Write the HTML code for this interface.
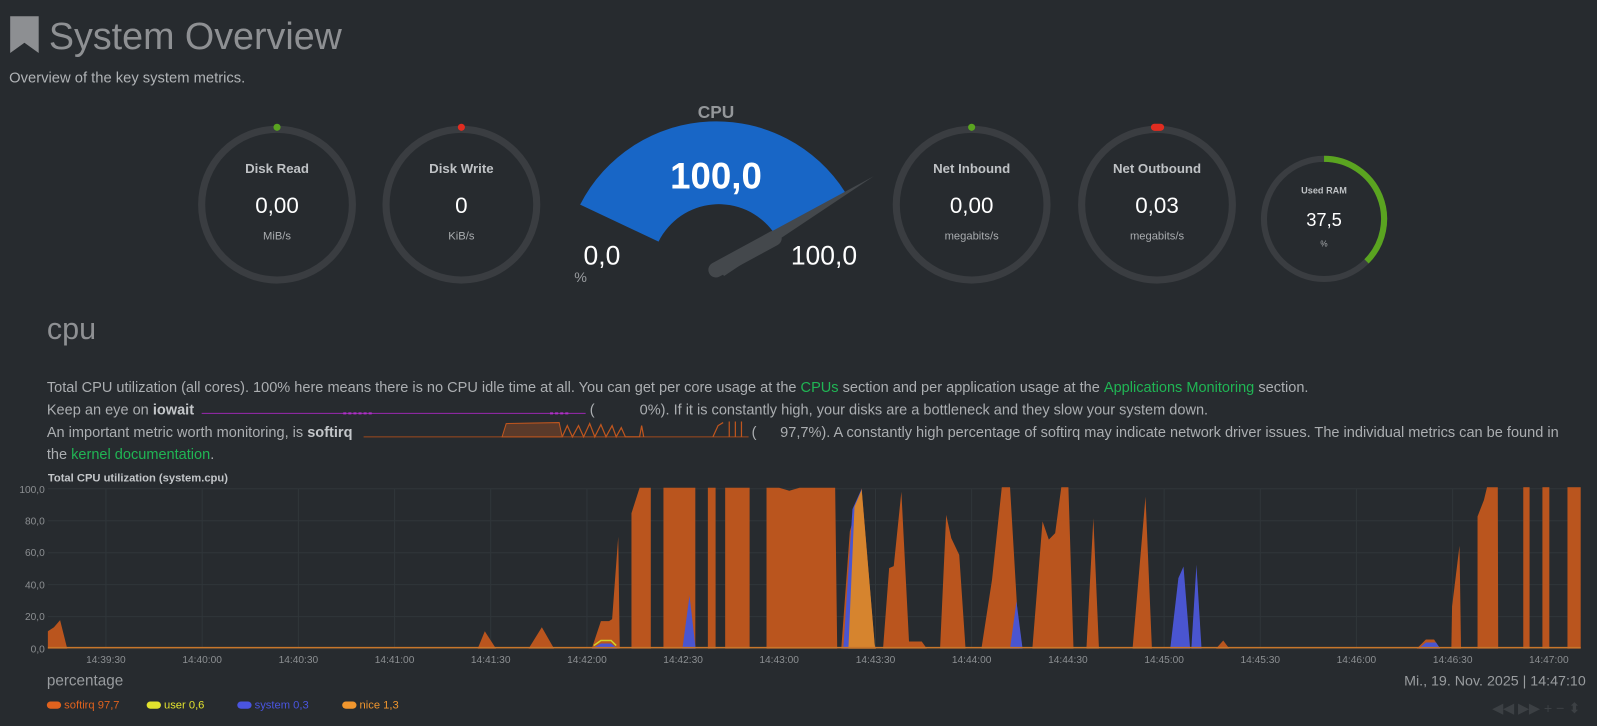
<!DOCTYPE html>
<html><head><meta charset="utf-8"><style>
html,body{margin:0;padding:0;background:#272b2f;overflow:hidden}
svg{display:block}
text{font-family:"Liberation Sans",sans-serif}
</style></head><body>
<svg width="1597" height="726" viewBox="0 0 1568 713" preserveAspectRatio="none" xmlns="http://www.w3.org/2000/svg">
<rect width="1568" height="713" fill="#272b2f"/>
<!-- header -->
<path d="M10,16 L38,16 L38,52 L24,42 L10,52 Z" fill="#8d8f92"/>
<text x="48" y="48" font-size="37" fill="#8e9093">System Overview</text>
<text x="9" y="81" font-size="14.5" fill="#b0b3b6">Overview of the key system metrics.</text>

<!-- circle gauges -->
<g fill="none" stroke="#3a3d41" stroke-width="7">
<circle cx="272" cy="201" r="74"/>
<circle cx="453" cy="201" r="74"/>
<circle cx="954" cy="201" r="74"/>
<circle cx="1136" cy="201" r="74"/>
<circle cx="1300" cy="215" r="59" stroke-width="6"/>
</g>
<path d="M1300,156 A59,59 0 0 1 1341.7,256.7" fill="none" stroke="#5aa420" stroke-width="6"/>
<circle cx="272" cy="125" r="3.5" fill="#5aa420"/>
<circle cx="453" cy="125" r="3.5" fill="#e02c20"/>
<circle cx="954" cy="125" r="3.5" fill="#5aa420"/>
<rect x="1130" y="121.5" width="13" height="7" rx="3.5" fill="#e02c20"/>
<g text-anchor="middle">
<text x="272" y="170" font-size="13" font-weight="bold" fill="#bfc2c5">Disk Read</text>
<text x="272" y="209" font-size="22" fill="#fff">0,00</text>
<text x="272" y="235" font-size="11" fill="#a9acaf">MiB/s</text>
<text x="453" y="170" font-size="13" font-weight="bold" fill="#bfc2c5">Disk Write</text>
<text x="453" y="209" font-size="22" fill="#fff">0</text>
<text x="453" y="235" font-size="11" fill="#a9acaf">KiB/s</text>
<text x="954" y="170" font-size="13" font-weight="bold" fill="#bfc2c5">Net Inbound</text>
<text x="954" y="209" font-size="22" fill="#fff">0,00</text>
<text x="954" y="235" font-size="11" fill="#a9acaf">megabits/s</text>
<text x="1136" y="170" font-size="13" font-weight="bold" fill="#bfc2c5">Net Outbound</text>
<text x="1136" y="209" font-size="22" fill="#fff">0,03</text>
<text x="1136" y="235" font-size="11" fill="#a9acaf">megabits/s</text>
<text x="1300" y="190" font-size="9" font-weight="bold" fill="#bfc2c5">Used RAM</text>
<text x="1300" y="222" font-size="18" fill="#fff">37,5</text>
<text x="1300" y="242" font-size="8" fill="#a9acaf">%</text>
</g>

<!-- CPU gauge -->
<path d="M569.6,201 A150,150 0 0 1 830,189 L759,227.5 A66,66 0 0 0 646.6,237.3 Z" fill="#1866c6"/>
<path d="M699,259 L858,173 L711,271 Z" fill="#44484c"/>
<line x1="703" y1="265" x2="760" y2="234" stroke="#44484c" stroke-width="15" stroke-linecap="round"/>
<text x="703" y="116" font-size="17" font-weight="bold" fill="#94979a" text-anchor="middle">CPU</text>
<text x="703" y="185" font-size="36" font-weight="bold" fill="#fff" text-anchor="middle">100,0</text>
<text x="591" y="260" font-size="26" fill="#fff" text-anchor="middle">0,0</text>
<text x="809" y="260" font-size="26" fill="#fff" text-anchor="middle">100,0</text>
<text x="570" y="277" font-size="14" fill="#999c9f" text-anchor="middle">%</text>

<!-- cpu section -->
<text x="46" y="333" font-size="30" fill="#8e9093">cpu</text>
<g font-size="14.3" fill="#abaeb1">
<text x="46" y="385">Total CPU utilization (all cores). 100% here means there is no CPU idle time at all. You can get per core usage at the <tspan fill="#20b554">CPUs</tspan> section and per application usage at the <tspan fill="#20b554">Applications Monitoring</tspan> section.</text>
<text x="46" y="407">Keep an eye on <tspan font-weight="bold" fill="#c3c6c9">iowait</tspan></text>
<text x="579" y="407">(</text>
<text x="628" y="407">0%). If it is constantly high, your disks are a bottleneck and they slow your system down.</text>
<text x="46" y="429">An important metric worth monitoring, is <tspan font-weight="bold" fill="#c3c6c9">softirq</tspan></text>
<text x="738" y="429">(</text>
<text x="766" y="429">97,7%). A constantly high percentage of softirq may indicate network driver issues. The individual metrics can be found in</text>
<text x="46" y="451">the <tspan fill="#20b554">kernel documentation</tspan>.</text>
</g>
<line x1="198" y1="406" x2="575" y2="406" stroke="#9a28b0" stroke-width="1"/>
<path d="M337,406 h30 M540,406 h20" stroke="#b030c8" stroke-width="2" stroke-dasharray="3,2"/>
<line x1="357" y1="429" x2="735" y2="429" stroke="#a04a1c" stroke-width="1"/>
<path d="M493,429 L497,416 L549,415 L552,429 Z" fill="#5a3a2a" stroke="#c0561e"/>
<path d="M552,429 L557,418 L562,429 L568,418 L573,429 L579,416 L584,429 L590,417 L595,429 L601,418 L605,429 L610,420 L614,429 L628,429 L630,418 L632,429 M700,429 L705,418 L710,415 M716,414 V429 M722,414 V429 M728,414 V429" stroke="#c0561e" fill="none" stroke-width="1.2"/>

<!-- chart -->
<text x="47" y="473" font-size="11" font-weight="bold" fill="#c3c6c9">Total CPU utilization (system.cpu)</text>
<g stroke="#30363a" stroke-width="1">
<line x1="47" y1="480" x2="1552" y2="480"/><line x1="47" y1="511.4" x2="1552" y2="511.4"/>
<line x1="47" y1="542.8" x2="1552" y2="542.8"/><line x1="47" y1="574.2" x2="1552" y2="574.2"/>
<line x1="47" y1="605.6" x2="1552" y2="605.6"/><line x1="47" y1="637" x2="1552" y2="637"/>
<line x1="104" y1="480" x2="104" y2="637"/><line x1="198.5" y1="480" x2="198.5" y2="637"/>
<line x1="293" y1="480" x2="293" y2="637"/><line x1="387.4" y1="480" x2="387.4" y2="637"/>
<line x1="481.8" y1="480" x2="481.8" y2="637"/><line x1="576.3" y1="480" x2="576.3" y2="637"/>
<line x1="670.7" y1="480" x2="670.7" y2="637"/><line x1="765" y1="480" x2="765" y2="637"/>
<line x1="859.6" y1="480" x2="859.6" y2="637"/><line x1="954" y1="480" x2="954" y2="637"/>
<line x1="1048.5" y1="480" x2="1048.5" y2="637"/><line x1="1143" y1="480" x2="1143" y2="637"/>
<line x1="1237.4" y1="480" x2="1237.4" y2="637"/><line x1="1331.8" y1="480" x2="1331.8" y2="637"/>
<line x1="1426.3" y1="480" x2="1426.3" y2="637"/><line x1="1520.7" y1="480" x2="1520.7" y2="637"/>
</g>
<g font-size="10" fill="#8c8f92" text-anchor="end">
<text x="44" y="484">100,0</text><text x="44" y="515">80,0</text><text x="44" y="546">60,0</text>
<text x="44" y="578">40,0</text><text x="44" y="609">20,0</text><text x="44" y="641">0,0</text>
</g>
<g font-size="10" fill="#8c8f92" text-anchor="middle">
<text x="104" y="651">14:39:30</text><text x="198.5" y="651">14:40:00</text><text x="293" y="651">14:40:30</text>
<text x="387.4" y="651">14:41:00</text><text x="481.8" y="651">14:41:30</text><text x="576.3" y="651">14:42:00</text>
<text x="670.7" y="651">14:42:30</text><text x="765" y="651">14:43:00</text><text x="859.6" y="651">14:43:30</text>
<text x="954" y="651">14:44:00</text><text x="1048.5" y="651">14:44:30</text><text x="1143" y="651">14:45:00</text>
<text x="1237.4" y="651">14:45:30</text><text x="1331.8" y="651">14:46:00</text><text x="1426.3" y="651">14:46:30</text>
<text x="1520.7" y="651">14:47:00</text>
</g>
<g fill="#ba551e">
<path d="M47,637 L47,620 L53,616 L59,609 L66,637 L469,637 L476,620 L487,637 L519,637 L532,616 L544,637 L581,637 L590,610 L598,610 L601,608 L607,527 L608.5,637 Z"/>
<path d="M620,637 L620,504 L628,479 L639,479 L639,637 Z"/>
<rect x="651.4" y="479" width="31.3" height="158"/>
<rect x="695" y="479" width="7.6" height="158"/>
<rect x="712" y="479" width="24" height="158"/>
<path d="M752.6,637 L752.6,479 L765,479 L775,482 L785,479 L820,479 L822,637 Z"/>
<path d="M826,637 L834.4,522 L846,479.5 L858.7,633 L860,637 Z"/>
<path d="M867,637 L873,558 L877.5,556 L885,483 L892.5,630 L905,630 L910,637 Z"/>
<path d="M923,637 L929,505.6 L934,528.5 L941.8,545 L948,637 Z"/>
<path d="M963.6,637 L974,569.4 L983.6,478.5 L991.7,478.5 L1001,637 Z"/>
<path d="M1013.6,637 L1023.6,512 L1029.8,530 L1036,523.6 L1042,478.5 L1049,478.5 L1054,637 Z"/>
<path d="M1066.7,637 L1073.5,509 L1079,637 Z"/>
<path d="M1112,637 L1124.7,487.7 L1131,637 Z"/>
<path d="M1194,637 L1201,629 L1207,637 Z"/>
<path d="M1391,637 L1400,628 L1408,628 L1414,637 Z"/>
<path d="M1425,637 L1425.7,595.6 L1433,536 L1434.5,637 Z"/>
<path d="M1450.7,637 L1450.7,507.3 L1457,491 L1460,478.5 L1470.6,478.5 L1471,637 Z"/>
<rect x="1495.6" y="478.5" width="6.2" height="158.5"/>
<rect x="1514.4" y="478.5" width="6.8" height="158.5"/>
<rect x="1539" y="478.5" width="13" height="158.5"/>
</g>
<g fill="#4a55d0">
<path d="M828,637 L837,500 L846,480 L840,520 L834,637 Z"/>
<path d="M991.7,637 L998,590.7 L1004,637 Z"/>
<path d="M1149,637 L1157,567.8 L1162,556.3 L1168.5,637 Z"/>
<path d="M1169.7,637 L1174.7,554.7 L1179.7,637 Z"/>
<path d="M581,637 L590,632 L600,632 L606,637 Z"/>
<path d="M1393,637 L1400,631 L1410,631 L1414,637 Z"/>
<path d="M670,637 L677,585 L683,637 Z"/>
</g>
<path d="M833,637 L839,497.5 L846,481 L859,635 L860,637 Z" fill="#d6842e"/>
<path d="M583,634 L590,629 L600,629 L605,634" stroke="#d4d42a" stroke-width="1.5" fill="none"/>
<line x1="47" y1="636" x2="1552" y2="636" stroke="#c8762a" stroke-width="1.5"/>

<text x="46" y="673" font-size="15" fill="#999c9f">percentage</text>
<text x="1557" y="673" font-size="14" fill="#999c9f" text-anchor="end">Mi., 19. Nov. 2025 | 14:47:10</text>
<g font-size="11">
<rect x="46" y="689" width="14" height="7" rx="3.5" fill="#e0621e"/><text x="63" y="696" fill="#e0621e">softirq  97,7</text>
<rect x="144" y="689" width="14" height="7" rx="3.5" fill="#e2e22e"/><text x="161" y="696" fill="#e2e22e">user  0,6</text>
<rect x="233" y="689" width="14" height="7" rx="3.5" fill="#4a55e0"/><text x="250" y="696" fill="#4a55e0">system  0,3</text>
<rect x="336" y="689" width="14" height="7" rx="3.5" fill="#f0962e"/><text x="353" y="696" fill="#f0962e">nice  1,3</text>
</g>
<text x="1465" y="700" font-size="14" fill="#3c4044">◀◀ ▶▶ + − ⬍</text>
</svg>
</body></html>
